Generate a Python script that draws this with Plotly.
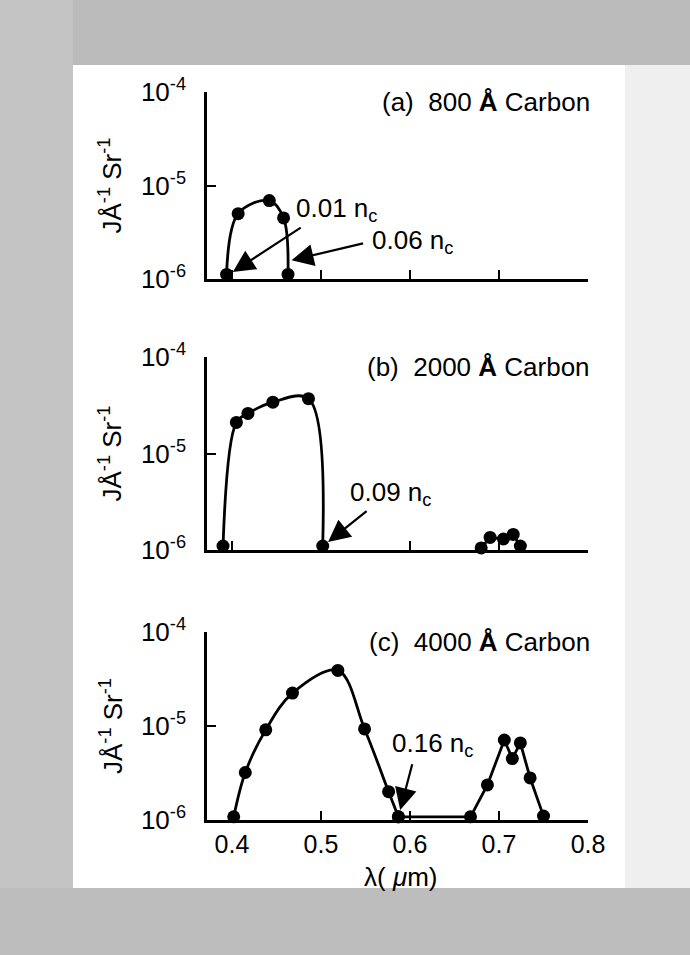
import plotly.graph_objects as go

# ---------------- data ----------------
# (a) 800 Å carbon
wl_a = [0.394, 0.407, 0.442, 0.458, 0.463]
val_a = [1.12e-6, 5.0e-6, 6.9e-6, 4.5e-6, 1.12e-6]

# (b) 2000 Å carbon
wl_b = [0.390, 0.405, 0.418, 0.446, 0.486, 0.502]
val_b = [1.1e-6, 2.1e-5, 2.6e-5, 3.4e-5, 3.7e-5, 1.1e-6]
wl_b2 = [0.680, 0.690, 0.705, 0.716, 0.724]
val_b2 = [1.05e-6, 1.35e-6, 1.3e-6, 1.45e-6, 1.1e-6]

# (c) 4000 Å carbon
wl_c1 = [0.402, 0.415, 0.438, 0.468, 0.519, 0.549, 0.576, 0.587]
val_c1 = [1.08e-6, 3.2e-6, 9.1e-6, 2.24e-5, 3.9e-5, 9.3e-6, 2.0e-6, 1.08e-6]
wl_c2 = [0.587, 0.668, 0.687, 0.706, 0.715, 0.724, 0.735, 0.750]
val_c2 = [1.08e-6, 1.08e-6, 2.36e-6, 7.1e-6, 4.5e-6, 6.6e-6, 2.8e-6, 1.1e-6]

panel_titles = ["(a)  800 <b>Å</b> Carbon", "(b)  2000 <b>Å</b> Carbon", "(c)  4000 <b>Å</b> Carbon"]
y_tickvals = [1e-6, 1e-5, 1e-4]
y_ticktext = ["10<sup>-6</sup>", "10<sup>-5</sup>", "10<sup>-4</sup>"]
x_tickvals = [0.4, 0.5, 0.6, 0.7, 0.8]
x_ticktext = ["0.4", "0.5", "0.6", "0.7", "0.8"]
y_label = "JÅ<sup>-1</sup> Sr<sup>-1</sup>"
x_label = "λ( <i>μ</i>m)"

# annotations: (panel, label, text x, text logy, tail x, tail logy, tip x, tip logy)
density_notes = [
    (1, "0.01 n<sub>c</sub>", 0.518, -5.26, 0.479, -5.44, 0.401, -5.925),
    (1, "0.06 n<sub>c</sub>", 0.603, -5.60, 0.549, -5.615, 0.467, -5.80),
    (2, "0.09 n<sub>c</sub>", 0.578, -5.41, 0.553, -5.585, 0.508, -5.917),
    (3, "0.16 n<sub>c</sub>", 0.625, -5.20, 0.603, -5.39, 0.589, -5.894),
]

# ---------------- figure ----------------
W, H = 690, 955
FONT = "Liberation Sans, Arial, Helvetica, sans-serif"
FS = 26
fig = go.Figure()

line_style = dict(color="black", width=2.8)
mk = dict(color="black", size=13)

def add(x, y, n, shape):
    fig.add_trace(go.Scatter(
        x=x, y=y, mode="lines+markers",
        line=dict(**line_style, shape=shape, smoothing=1.0) if shape == "spline" else dict(**line_style),
        marker=mk, xaxis="x" if n == 1 else f"x{n}", yaxis="y" if n == 1 else f"y{n}",
        showlegend=False, cliponaxis=False))

add(wl_a, val_a, 1, "spline")
add(wl_b, val_b, 2, "spline")
add(wl_b2, val_b2, 2, "linear")
add(wl_c1, val_c1, 3, "spline")
add(wl_c2, val_c2, 3, "linear")

# pixel geometry -> paper domains
x_dom = [207 / W, 588 / W]
panels_px = [(92, 279), (357, 550), (632, 820)]

layout = dict(
    width=W, height=H, autosize=False,
    margin=dict(l=0, r=0, t=0, b=0, pad=0, autoexpand=False),
    paper_bgcolor="white", plot_bgcolor="rgba(0,0,0,0)",
    font=dict(family=FONT, size=FS, color="black"),
    showlegend=False,
)
for i, (top, bot) in enumerate(panels_px, start=1):
    suffix = "" if i == 1 else str(i)
    layout[f"xaxis{suffix}"] = dict(
        domain=x_dom, range=[0.372, 0.8], anchor=f"y{suffix}", automargin=False,
        showline=True, linecolor="black", linewidth=2.6,
        ticks="inside", ticklen=9, tickwidth=2, tickcolor="black",
        tickvals=x_tickvals, ticktext=x_ticktext,
        showticklabels=(i == 3), ticklabelstandoff=0,
        tickfont=dict(size=25, family=FONT),
        showgrid=False, zeroline=False,
    )
    layout[f"yaxis{suffix}"] = dict(
        domain=[1 - bot / H, 1 - top / H], type="log", range=[-6, -4],
        anchor=f"x{suffix}", automargin=False,
        showline=True, linecolor="black", linewidth=2.6,
        ticks="inside", ticklen=9, tickwidth=2, tickcolor="black",
        tickvals=y_tickvals, ticktext=y_ticktext,
        ticklabelstandoff=13, tickfont=dict(size=FS, family=FONT),
        showgrid=False, zeroline=False,
    )
fig.update_layout(**layout)

# background border bands (halftone frame of the scanned page)
bands = [
    (0, 0, W, 65, "#bababa"),
    (0, 0, 73, H, "#c4c4c4"),
    (0, 888, W, H, "#bdbdbd"),
    (625, 65, W, 888, "#efefef"),
]
for x0, y0, x1, y1, col in bands:
    fig.add_shape(type="rect", xref="paper", yref="paper",
                  x0=x0 / W, x1=x1 / W, y0=1 - y1 / H, y1=1 - y0 / H,
                  fillcolor=col, line=dict(width=0), layer="below")

anns = []
for i, (top, bot) in enumerate(panels_px, start=1):
    anns.append(dict(x=592 / W, y=1 - (top + 10) / H, xref="paper", yref="paper",
                     text=panel_titles[i - 1], showarrow=False, xanchor="right",
                     yanchor="middle", font=dict(size=FS, family=FONT)))
    anns.append(dict(x=111 / W, y=1 - (top + bot) / 2 / H, xref="paper", yref="paper",
                     text=y_label, textangle=-90, showarrow=False,
                     xanchor="center", yanchor="middle",
                     font=dict(size=FS, family=FONT)))

for n, label, tx, ty, ax, ay, hx, hy in density_notes:
    suffix = "" if n == 1 else str(n)
    anns.append(dict(x=tx, y=ty, xref=f"x{suffix}", yref=f"y{suffix}", text=label,
                     showarrow=False, xanchor="center", yanchor="middle",
                     font=dict(size=FS, family=FONT)))
    anns.append(dict(x=hx, y=hy, ax=ax, ay=ay, xref=f"x{suffix}", yref=f"y{suffix}",
                     axref=f"x{suffix}", ayref=f"y{suffix}", text="",
                     showarrow=True, arrowhead=2, arrowsize=2.0, arrowwidth=2.2,
                     arrowcolor="black"))

anns.append(dict(x=400 / W, y=1 - 877 / H, xref="paper", yref="paper", text=x_label,
                 showarrow=False, xanchor="center", yanchor="middle",
                 font=dict(size=FS, family=FONT)))
fig.update_layout(annotations=anns)

# pin the figure to the top-left corner of the page (no default body margin)
pin = ("document.body.style.margin='0px';document.body.style.overflow='hidden';"
       "var d=document.getElementById('{plot_id}');d.style.position='fixed';"
       "d.style.left='0px';d.style.top='0px';")
fig.write_html("out.html", post_script=pin, config={"displayModeBar": False})
